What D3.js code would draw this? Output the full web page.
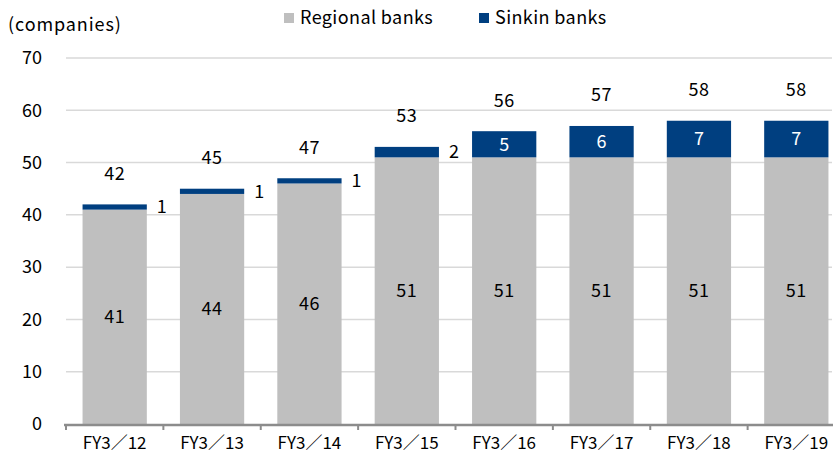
<!DOCTYPE html>
<html>
<head>
<meta charset="utf-8">
<script src="https://cdn.jsdelivr.net/npm/d3@7"></script>
<style>
  body { margin: 0; background: #fff; }
  text { font-family: "Noto Sans CJK JP", "Liberation Sans", sans-serif; fill: #000; font-size: 18px; }
</style>
</head>
<body>
<div id="chart"></div>
<script>
// data
var years    = ["FY3／12", "FY3／13", "FY3／14", "FY3／15", "FY3／16", "FY3／17", "FY3／18", "FY3／19"];
var regional = [41, 44, 46, 51, 51, 51, 51, 51];
var sinkin   = [1, 1, 1, 2, 5, 6, 7, 7];
var y_ticks  = [0, 10, 20, 30, 40, 50, 60, 70];

var chart_width  = 836;
var chart_height = 462;

var svg = d3.select("#chart")
    .append("svg")
    .attr("width", chart_width)
    .attr("height", chart_height);

var x = d3.scaleBand()
    .domain(years)
    .range([66, 845])
    .paddingInner(0.34)
    .paddingOuter(0.17);

var y = d3.scaleLinear()
    .domain([0, 70])
    .range([424, 58]);

// gridlines
svg.selectAll(".grid")
    .data(y_ticks.filter(function(d){ return d > 0; }))
    .enter()
    .append("line")
    .attr("x1", 66)
    .attr("x2", 832)
    .attr("y1", function(d){ return y(d); })
    .attr("y2", function(d){ return y(d); })
    .attr("stroke", "#d9d9d9")
    .attr("stroke-width", 1.5);

// y labels
svg.selectAll(".ylab")
    .data(y_ticks)
    .enter()
    .append("text")
    .attr("x", 42)
    .attr("y", function(d){ return y(d); })
    .attr("dy", "0.35em")
    .attr("text-anchor", "end")
    .text(function(d){ return d; });

svg.append("text")
    .attr("x", 8)
    .attr("y", 25)
    .attr("dy", "0.35em")
    .style("letter-spacing", "0.9px")
    .text("(companies)");

// stacked bars
var rows = years.map(function(d, i){
  return {year: d, regional: regional[i], sinkin: sinkin[i]};
});

svg.selectAll(".reg")
    .data(rows)
    .enter()
    .append("rect")
    .attr("x", function(d){ return x(d.year); })
    .attr("width", x.bandwidth())
    .attr("y", function(d){ return y(d.regional); })
    .attr("height", function(d){ return y(0) - y(d.regional); })
    .attr("fill", "#bfbfbf");

svg.selectAll(".sink")
    .data(rows)
    .enter()
    .append("rect")
    .attr("x", function(d){ return x(d.year); })
    .attr("width", x.bandwidth())
    .attr("y", function(d){ return y(d.regional + d.sinkin); })
    .attr("height", function(d){ return y(d.regional) - y(d.regional + d.sinkin); })
    .attr("fill", "#003f80");

// x axis
var xAxis = svg.append("g");
xAxis.append("line")
    .attr("x1", 64)
    .attr("x2", 833)
    .attr("y1", 425)
    .attr("y2", 425)
    .attr("stroke", "#8c8c8c")
    .attr("stroke-width", 2.5);

var step = x.step();
xAxis.selectAll(".tick")
    .data(years)
    .enter()
    .append("line")
    .attr("x1", function(d){ return x(d) - x.paddingInner() * step / 2; })
    .attr("x2", function(d){ return x(d) - x.paddingInner() * step / 2; })
    .attr("y1", 425)
    .attr("y2", 430)
    .attr("stroke", "#8c8c8c")
    .attr("stroke-width", 2);

xAxis.selectAll(".xlab")
    .data(years)
    .enter()
    .append("text")
    .attr("x", function(d){ return x(d) + x.bandwidth() / 2; })
    .attr("y", 443)
    .attr("dy", "0.35em")
    .attr("text-anchor", "middle")
    .style("font-size", "17px")
    .text(function(d){ return d; });

// labels inside regional segments
svg.selectAll(".reglab")
    .data(rows)
    .enter()
    .append("text")
    .attr("x", function(d){ return x(d.year) + x.bandwidth() / 2; })
    .attr("y", function(d){ return y(d.regional / 2); })
    .attr("dy", "0.35em")
    .attr("text-anchor", "middle")
    .style("letter-spacing", "0.5px")
    .text(function(d){ return d.regional; });

// sinkin labels: beside small segments, inside bigger ones
svg.selectAll(".sinklab")
    .data(rows)
    .enter()
    .append("text")
    .attr("x", function(d){
      return d.sinkin < 3 ? x(d.year) + x.bandwidth() + 10 : x(d.year) + x.bandwidth() / 2;
    })
    .attr("y", function(d){ return y(d.regional + d.sinkin / 2); })
    .attr("dy", "0.35em")
    .attr("text-anchor", function(d){ return d.sinkin < 3 ? "start" : "middle"; })
    .style("fill", function(d){ return d.sinkin < 3 ? "#000" : "#fff"; })
    .text(function(d){ return d.sinkin; });

// totals
svg.selectAll(".total")
    .data(rows)
    .enter()
    .append("text")
    .attr("x", function(d){ return x(d.year) + x.bandwidth() / 2; })
    .attr("y", function(d){ return y(d.regional + d.sinkin) - 31; })
    .attr("dy", "0.35em")
    .attr("text-anchor", "middle")
    .style("letter-spacing", "0.5px")
    .text(function(d){ return d.regional + d.sinkin; });

// legend
var legend = [
  {name: "Regional banks", color: "#bfbfbf", x: 284},
  {name: "Sinkin banks", color: "#003f80", x: 479}
];
var lg = svg.selectAll(".legend")
    .data(legend)
    .enter()
    .append("g");
lg.append("rect")
    .attr("x", function(d){ return d.x; })
    .attr("y", 13)
    .attr("width", 10)
    .attr("height", 10)
    .attr("fill", function(d){ return d.color; });
lg.append("text")
    .attr("x", function(d){ return d.x + 16; })
    .attr("y", 18)
    .attr("dy", "0.35em")
    .style("letter-spacing", "0.4px")
    .text(function(d){ return d.name; });
</script>
</body>
</html>
